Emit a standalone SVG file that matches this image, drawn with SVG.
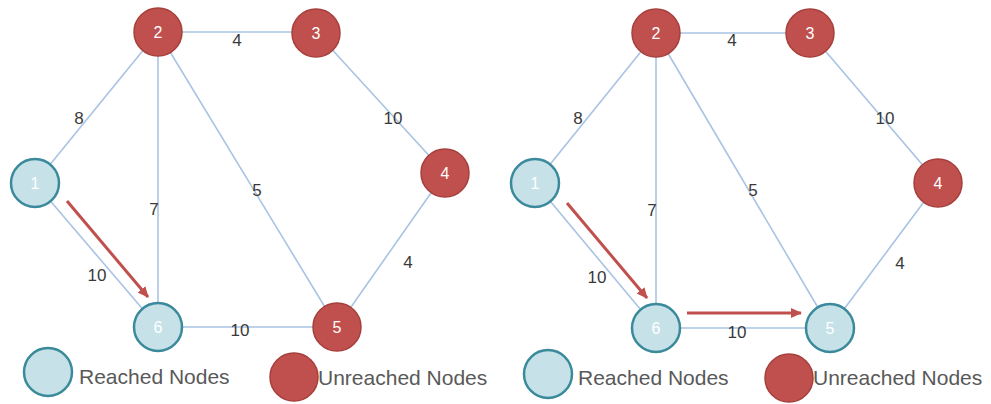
<svg xmlns="http://www.w3.org/2000/svg" width="991" height="404" viewBox="0 0 991 404">
<style>
.edge{stroke:#a9c3e3;stroke-width:1.6;fill:none}
.path{stroke:#c0504d;stroke-width:3;fill:none}
.reached{fill:#c6e2e8;stroke:#3a8a9c;stroke-width:2.5}
.unreached{fill:#c0504d;stroke:#a5403d;stroke-width:1.5}
.nl{font-family:"Liberation Sans",Arial,sans-serif;font-size:16px;fill:#ffffff;text-anchor:middle}
.el{font-family:"Liberation Sans",Arial,sans-serif;font-size:17px;fill:#3a3a3a;text-anchor:middle}
.lg{font-family:"Liberation Sans",Arial,sans-serif;font-size:21px;fill:#595959}
</style>
<defs>
<marker id="ah" markerWidth="12" markerHeight="10" refX="10" refY="5" orient="auto" markerUnits="userSpaceOnUse">
<path d="M0,0 L11,5 L0,10 Z" fill="#c0504d"/>
</marker>
</defs>
<g id="connectors">
<line class="edge" x1="158" y1="32" x2="316" y2="32"/>
<line class="edge" x1="158" y1="32" x2="35" y2="183"/>
<line class="edge" x1="158" y1="32" x2="158" y2="327"/>
<line class="edge" x1="158" y1="32" x2="337" y2="327"/>
<line class="edge" x1="316" y1="32" x2="445" y2="173"/>
<line class="edge" x1="35" y1="183" x2="158" y2="327"/>
<line class="edge" x1="158" y1="327" x2="337" y2="327"/>
<line class="edge" x1="445" y1="173" x2="337" y2="327"/>
<line class="path" x1="67" y1="201" x2="148" y2="297" marker-end="url(#ah)"/>
<line class="edge" x1="656" y1="33" x2="810" y2="33"/>
<line class="edge" x1="656" y1="33" x2="535" y2="183"/>
<line class="edge" x1="656" y1="33" x2="656" y2="328"/>
<line class="edge" x1="656" y1="33" x2="830" y2="328"/>
<line class="edge" x1="810" y1="33" x2="938" y2="183"/>
<line class="edge" x1="535" y1="183" x2="656" y2="328"/>
<line class="edge" x1="656" y1="328" x2="830" y2="328"/>
<line class="edge" x1="938" y1="183" x2="830" y2="328"/>
<line class="path" x1="567" y1="203" x2="647" y2="298" marker-end="url(#ah)"/>
<line class="path" x1="687" y1="313" x2="801" y2="313" marker-end="url(#ah)"/>
</g>
<g id="edge-labels">
<text class="el" x="237" y="46">4</text>
<text class="el" x="79" y="124">8</text>
<text class="el" x="393" y="124">10</text>
<text class="el" x="257" y="196">5</text>
<text class="el" x="154" y="215">7</text>
<text class="el" x="97" y="281">10</text>
<text class="el" x="408" y="268">4</text>
<text class="el" x="240" y="336">10</text>
<text class="el" x="732" y="46">4</text>
<text class="el" x="578" y="124">8</text>
<text class="el" x="885" y="124">10</text>
<text class="el" x="753" y="196">5</text>
<text class="el" x="652" y="216">7</text>
<text class="el" x="597" y="283">10</text>
<text class="el" x="900" y="269">4</text>
<text class="el" x="737" y="338">10</text>
</g>
<g id="L-node1"><circle class="reached" cx="35" cy="183" r="24"/><text class="nl" x="35" y="189">1</text></g>
<g id="L-node2"><circle class="unreached" cx="158" cy="32" r="24"/><text class="nl" x="158" y="38">2</text></g>
<g id="L-node3"><circle class="unreached" cx="316" cy="33" r="24"/><text class="nl" x="316" y="39">3</text></g>
<g id="L-node4"><circle class="unreached" cx="445" cy="173" r="24"/><text class="nl" x="445" y="179">4</text></g>
<g id="L-node5"><circle class="unreached" cx="337" cy="327" r="24"/><text class="nl" x="337" y="333">5</text></g>
<g id="L-node6"><circle class="reached" cx="158" cy="327" r="24"/><text class="nl" x="158" y="333">6</text></g>
<g id="R-node1"><circle class="reached" cx="535" cy="183" r="24"/><text class="nl" x="535" y="189">1</text></g>
<g id="R-node2"><circle class="unreached" cx="656" cy="33" r="24"/><text class="nl" x="656" y="39">2</text></g>
<g id="R-node3"><circle class="unreached" cx="810" cy="33" r="24"/><text class="nl" x="810" y="39">3</text></g>
<g id="R-node4"><circle class="unreached" cx="938" cy="183" r="24"/><text class="nl" x="938" y="189">4</text></g>
<g id="R-node5"><circle class="reached" cx="830" cy="328" r="24"/><text class="nl" x="830" y="334">5</text></g>
<g id="R-node6"><circle class="reached" cx="656" cy="328" r="24"/><text class="nl" x="656" y="334">6</text></g>
<g id="L-legend">
<circle class="reached" cx="48" cy="372" r="24"/>
<text class="lg" x="79" y="384">Reached Nodes</text>
<circle class="unreached" cx="294" cy="377" r="24"/>
<text class="lg" x="318" y="385">Unreached Nodes</text>
</g>
<g id="R-legend">
<circle class="reached" cx="548" cy="374" r="24"/>
<text class="lg" x="578" y="385">Reached Nodes</text>
<circle class="unreached" cx="789" cy="378" r="24"/>
<text class="lg" x="813" y="385">Unreached Nodes</text>
</g>
</svg>
